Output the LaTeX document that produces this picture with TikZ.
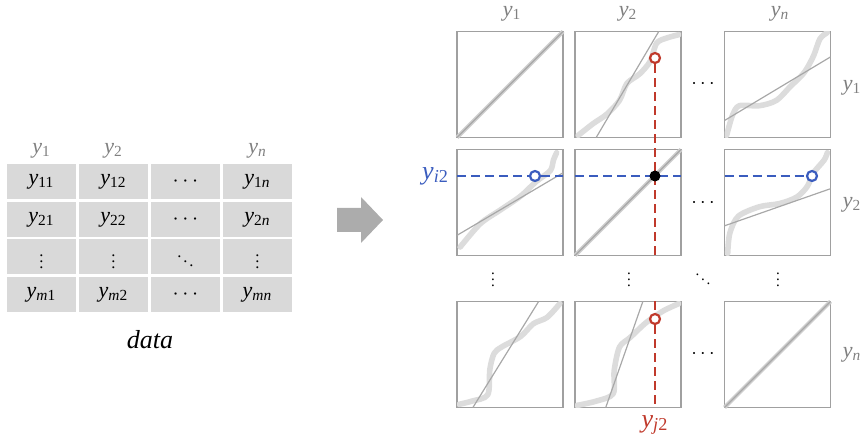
\documentclass[tikz,border=0pt]{standalone}
\usepackage{fontspec}
\usepackage{graphicx}
\setmainfont{Liberation Serif}
\usetikzlibrary{calc}

\definecolor{cellgray}{RGB}{217,217,217}
\definecolor{labgray}{RGB}{128,128,128}
\definecolor{boxgray}{RGB}{160,160,160}
\definecolor{ptgray}{RGB}{220,220,220}
\definecolor{fitgray}{RGB}{168,168,168}
\definecolor{arrgray}{RGB}{172,172,172}
\definecolor{qred}{RGB}{192,57,43}
\definecolor{qblue}{RGB}{58,92,190}

\newcommand\ysub[1]{\textit{y}\textsubscript{#1}}
\newcommand\vdt{\scalebox{0.75}{$\vdots$}}
\newcommand\qqpanel[3]{%
  \begin{scope}[shift={(#1.south west)},x=53pt,y=53pt]
    \clip (0,0) rectangle (1,1);
    \draw[qqpts] plot[smooth,tension=0.5] coordinates {#2};
    \draw[qqfit] #3;
  \end{scope}}

\tikzset{
  cell/.style={fill=cellgray, minimum width=34.5pt, minimum height=17.5pt, inner sep=0pt, font=\fontsize{11}{13}\selectfont},
  hdr/.style={text=labgray, font=\fontsize{11}{13}\selectfont},
  qqbox/.style={draw=boxgray, line width=0.75pt, minimum width=53pt, minimum height=53pt, inner sep=0pt, outer sep=0pt},
  qqpts/.style={ptgray, line width=2.8pt, line cap=round, line join=round},
  qqfit/.style={fitgray, line width=0.6pt},
  diagband/.style={ptgray!85!gray, line width=2pt},
  ringred/.style={circle, draw=qred, fill=white, line width=1.1pt, minimum size=5pt, inner sep=0pt},
  ringblue/.style={ringred, draw=qblue},
  blackdot/.style={circle, fill=black, minimum size=5.5pt, inner sep=0pt},
  reddash/.style={qred, line width=0.8pt, dash pattern=on 4.5pt off 2.5pt},
  bluedash/.style={qblue, line width=0.8pt, dash pattern=on 4.5pt off 2.5pt}
}

\begin{document}
\begin{tikzpicture}[x=0.5pt,y=-0.5pt]
\useasboundingbox (0,0) rectangle (864,442);

\foreach \lab/\x/\k in {1/41.5/1, 2/113.5/2, \textit{n}/257.5/n}
  \node[hdr] (th-\k) at (\x,151) {\ysub{\lab}};

\foreach \a/\b/\c/\d [count=\r] in {
  \ysub{11}/\ysub{12}/$\cdots$/\ysub{1\textit{n}},
  \ysub{21}/\ysub{22}/$\cdots$/\ysub{2\textit{n}},
  \vdt/\vdt/\scalebox{0.75}{$\ddots$}/\vdt,
  \ysub{\textit{m}1}/\ysub{\textit{m}2}/$\cdots$/\ysub{\textit{mn}}}{
  \pgfmathsetmacro\yr{182+(\r-1)*37.5}
  \node[cell] (c-\r-1) at (41.5,\yr) {\a};
  \node[cell] (c-\r-2) at (113.5,\yr) {\b};
  \node[cell] (c-\r-3) at (185.5,\yr) {\c};
  \node[cell] (c-\r-4) at (257.5,\yr) {\d};
}

\node[font=\fontsize{13}{15}\selectfont\itshape] (datalab) at (150,340) {data};

\fill[arrgray] (337,208) -- (361,208) -- (361,197) -- (383,220) -- (361,243) -- (361,232) -- (337,232) -- cycle;

\foreach \r/\yy in {1/84.5, 2/202.5, n/354.5}
  \foreach \c/\xx in {1/510, 2/628, n/777.5}
    \node[qqbox] (q-\r-\c) at (\xx,\yy) {};

\foreach \lab/\xx/\k in {1/512/1, 2/628/2, \textit{n}/780/n}
  \node[hdr] (ch-\k) at (\xx,14) {\ysub{\lab}};
\foreach \lab/\yy/\k in {1/88/1, 2/205/2, \textit{n}/355/n}
  \node[hdr] (rh-\k) at (852,\yy) {\ysub{\lab}};

\foreach \r/\yy in {1/84, 2/203, n/354}
  \node (hd-\r) at (703,\yy) {$\cdots$};
\foreach \xx/\k in {493/1, 629/2, 778/n}
  \node (vd-\k) at (\xx,275) {\vdt};
\node (dd) at (703,275) {\scalebox{0.75}{$\ddots$}};

\foreach \k in {1,2,n}{
  \draw[diagband] (q-\k-\k.south west) -- (q-\k-\k.north east);
  \draw[qqfit] (q-\k-\k.south west) -- (q-\k-\k.north east);
}
\qqpanel{q-1-2}{(0.03,0.02) (0.17,0.13) (0.30,0.22) (0.42,0.35) (0.49,0.51) (0.61,0.60) (0.71,0.72) (0.77,0.89) (0.87,0.94) (0.98,0.97)}{(0.2,0) -- (0.79,1)}
\qqpanel{q-1-n}{(0.02,0.02) (0.05,0.13) (0.08,0.22) (0.14,0.30) (0.33,0.30) (0.49,0.35) (0.62,0.48) (0.75,0.61) (0.84,0.77) (0.90,0.93) (0.97,0.99)}{(0,0.16) -- (1,0.76)}
\qqpanel{q-2-1}{(0.03,0.08) (0.22,0.30) (0.41,0.43) (0.6,0.56) (0.75,0.70) (0.88,0.80) (0.91,0.90) (0.94,0.97)}{(0,0.19) -- (1,0.78)}
\qqpanel{q-2-n}{(0.03,0.02) (0.05,0.21) (0.13,0.37) (0.33,0.46) (0.52,0.49) (0.68,0.55) (0.78,0.65) (0.84,0.78) (0.94,0.90) (0.97,0.97)}{(0,0.28) -- (1,0.63)}
\qqpanel{q-n-1}{(0.02,0.03) (0.14,0.06) (0.29,0.12) (0.31,0.36) (0.35,0.51) (0.42,0.57) (0.6,0.67) (0.72,0.79) (0.85,0.85) (0.97,0.98)}{(0.15,0) -- (0.77,1)}
\qqpanel{q-n-2}{(0.02,0.02) (0.20,0.06) (0.36,0.13) (0.37,0.35) (0.42,0.57) (0.52,0.66) (0.67,0.80) (0.83,0.91) (0.98,0.98)}{(0.29,0) -- (0.64,1)}

\node[ringred] (rt) at (655,58) {};
\node[ringred] (rb) at (655,319) {};
\node[ringblue] (bl) at (535,176) {};
\node[ringblue] (br) at (812,176) {};

\draw[reddash] (rt) -- (rt |- q-2-2.south);
\draw[reddash] (rt |- q-n-2.north) -- (rb);
\draw[reddash] (rb) -- (rb |- q-n-2.south);
\draw[bluedash] (q-2-1.west |- bl) -- (bl);
\draw[bluedash] (bl) -- (bl -| q-2-1.east);
\draw[bluedash] (q-2-2.west |- bl) -- (bl -| q-2-2.east);
\draw[bluedash] (q-2-n.west |- br) -- (br);

\node[blackdot] (cross) at (rt |- bl) {};

\node[text=qblue, font=\fontsize{13}{15}\selectfont, anchor=east] (yi) at (456,176) {\ysub{\textit{i}2}};
\node[text=qred, font=\fontsize{13}{15}\selectfont] (yj) at (655,425) {\ysub{\textit{j}2}};

\end{tikzpicture}
\end{document}
